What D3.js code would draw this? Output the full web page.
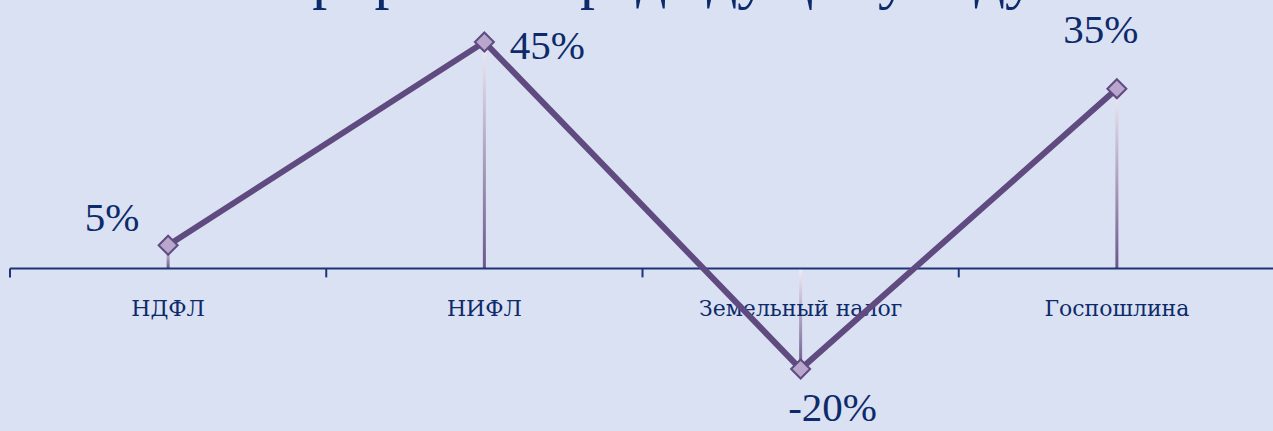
<!DOCTYPE html>
<html>
<head>
<meta charset="utf-8">
<script src="https://cdn.jsdelivr.net/npm/d3@7"></script>
<style>
  body { margin: 0; background: #dae1f2; }
  svg { display: block; }
</style>
</head>
<body>
<script>
var width = 1273, height = 431;

// data
var categories = ["НДФЛ", "НИФЛ", "Земельный налог", "Госпошлина"];
var values = [4.6, 45, -20, 35.7];
var labels = ["5%", "45%", "-20%", "35%"];
var title = "Прирост к предыдущему году";

// where each value label sits relative to its point
var labelOffsets = [[-56, -14], [63, 17], [32, 52], [-16, -46]];

var ink = "#0d2a6a";
var lineColor = "#5f4b7f";

var svg = d3.select("body")
  .append("svg")
  .attr("width", width)
  .attr("height", height);

svg.append("rect")
  .attr("width", width)
  .attr("height", height)
  .attr("fill", "#dae1f2");

var defs = svg.append("defs");
var grad = defs.append("linearGradient")
  .attr("id", "drop")
  .attr("x1", 0).attr("y1", 0)
  .attr("x2", 0).attr("y2", 1);
grad.append("stop").attr("offset", "0%").attr("stop-color", "#f1ecf4");
grad.append("stop").attr("offset", "100%").attr("stop-color", "#6a578a");

// title, mostly cut off by the top edge (as in the original slide)
svg.append("text")
  .attr("x", 652)
  .attr("y", -3)
  .attr("text-anchor", "middle")
  .attr("font-family", "Liberation Serif")
  .attr("font-size", 60)
  .attr("fill", ink)
  .text(title);

var x = d3.scaleBand()
  .domain(categories)
  .range([10, 1275]);

var y = d3.scaleLinear()
  .domain([-20, 45])
  .range([369, 42]);

var cx = function (d, i) { return x(categories[i]) + x.bandwidth() / 2; };

// drop lines
svg.append("g")
  .selectAll("rect")
  .data(values)
  .join("rect")
  .attr("x", (d, i) => cx(d, i) - 1.5)
  .attr("y", d => Math.min(y(d), y(0)))
  .attr("width", 3)
  .attr("height", d => Math.abs(y(d) - y(0)))
  .attr("fill", "url(#drop)");

// axis
var axis = svg.append("g")
  .attr("transform", "translate(0," + y(0) + ")");

axis.append("line")
  .attr("x1", 10).attr("x2", width)
  .attr("stroke", "#1b3575")
  .attr("stroke-width", 2);

var ticks = categories.map(c => x(c)).concat([x.range()[1]]);
axis.selectAll("line.tick")
  .data(ticks)
  .join("line")
  .attr("class", "tick")
  .attr("x1", d => d).attr("x2", d => d)
  .attr("y1", 0).attr("y2", 9)
  .attr("stroke", "#1b3575")
  .attr("stroke-width", 2);

axis.selectAll("text")
  .data(categories)
  .join("text")
  .attr("x", (d, i) => cx(d, i))
  .attr("y", 48)
  .attr("text-anchor", "middle")
  .attr("font-family", "DejaVu Serif")
  .attr("font-size", 22)
  .attr("fill", ink)
  .text(d => d);

// the line
var line = d3.line()
  .x((d, i) => cx(d, i))
  .y(d => y(d));

svg.append("path")
  .datum(values)
  .attr("d", line)
  .attr("fill", "none")
  .attr("stroke", lineColor)
  .attr("stroke-width", 6)
  .attr("stroke-linejoin", "miter");

// diamond markers
svg.append("g")
  .selectAll("path")
  .data(values)
  .join("path")
  .attr("transform", (d, i) => "translate(" + cx(d, i) + "," + y(d) + ")")
  .attr("d", d3.symbol().type(d3.symbolDiamond2).size(230))
  .attr("fill", "#b8a6cd")
  .attr("stroke", lineColor)
  .attr("stroke-width", 2);

// value labels
svg.append("g")
  .selectAll("text")
  .data(values)
  .join("text")
  .attr("x", (d, i) => cx(d, i) + labelOffsets[i][0])
  .attr("y", (d, i) => y(d) + labelOffsets[i][1])
  .attr("text-anchor", "middle")
  .attr("font-family", "Liberation Serif")
  .attr("font-size", 41)
  .attr("fill", ink)
  .text((d, i) => labels[i]);
</script>
</body>
</html>
